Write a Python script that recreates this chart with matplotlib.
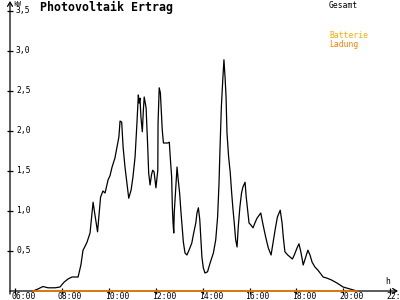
import matplotlib
matplotlib.use('Agg')
import matplotlib.pyplot as plt

# Gesamt (kW) over the day, hours as decimals
hours = [6.77, 6.98, 7.19, 7.41, 7.71, 7.92, 8.09, 8.26, 8.43, 8.69, 8.81, 8.90, 8.99, 9.07,
         9.20, 9.33, 9.41, 9.52, 9.65, 9.75, 9.84, 9.97, 10.05, 10.14, 10.26, 10.35, 10.43,
         10.48, 10.55, 10.61, 10.69, 10.77, 10.85, 10.95, 11.03, 11.12, 11.20, 11.26, 11.29,
         11.33, 11.37, 11.43, 11.47, 11.51, 11.59, 11.66, 11.70, 11.76, 11.82, 11.87, 11.93,
         12.01, 12.09, 12.10, 12.15, 12.20, 12.28, 12.33, 12.52, 12.58, 12.62, 12.68, 12.71,
         12.74, 12.77, 12.79, 12.87, 12.91, 12.96, 13.02, 13.08, 13.13, 13.18, 13.25, 13.33,
         13.42, 13.54, 13.62, 13.71, 13.76, 13.82, 13.88, 13.93, 13.97, 14.03, 14.10, 14.21,
         14.32, 14.46, 14.56, 14.64, 14.70, 14.74, 14.80, 14.86, 14.91, 14.96, 15.00, 15.04,
         15.11, 15.18, 15.24, 15.29, 15.35, 15.41, 15.47, 15.52, 15.59, 15.66, 15.72, 15.81,
         15.86, 15.92, 15.98, 16.06, 16.15, 16.23, 16.32, 16.48, 16.58, 16.69, 16.80, 16.92,
         17.00, 17.09, 17.19, 17.31, 17.39, 17.44, 17.51, 17.63, 17.73, 17.83, 17.91, 18.03,
         18.11, 18.20, 18.29, 18.40, 18.49, 18.58, 18.67, 18.79, 18.92, 19.01, 19.14, 19.31,
         19.48, 19.73, 19.99, 20.29, 20.58]
gesamt = [0.0, 0.025, 0.056, 0.04, 0.04, 0.05, 0.11, 0.15, 0.175, 0.175, 0.325, 0.51, 0.56, 0.61,
          0.725, 1.11, 0.95, 0.74, 1.175, 1.25, 1.225, 1.39, 1.44, 1.55, 1.66, 1.8, 1.925,
          2.125, 2.11, 1.8, 1.55, 1.35, 1.16, 1.26, 1.425, 1.675, 2.1, 2.45, 2.35,
          2.41, 2.175, 1.99, 2.24, 2.425, 2.29, 1.8, 1.475, 1.325, 1.45, 1.51, 1.49,
          1.29, 1.51, 2.1, 2.54, 2.475, 2.01, 1.85, 1.85, 1.86, 1.675, 1.425, 1.05,
          0.85, 0.725, 0.975, 1.35, 1.55, 1.39, 1.225, 0.975, 0.8, 0.61, 0.475, 0.45,
          0.51, 0.6, 0.725, 0.85, 0.975, 1.04, 0.89, 0.64, 0.425, 0.29, 0.225, 0.24,
          0.35, 0.475, 0.64, 0.925, 1.35, 1.76, 2.3, 2.64, 2.89, 2.66, 2.425, 1.975,
          1.675, 1.475, 1.225, 1.04, 0.85, 0.64, 0.55, 0.8, 1.05, 1.225, 1.3, 1.36,
          1.175, 1.01, 0.85, 0.825, 0.79, 0.85, 0.91, 0.975, 0.825, 0.675, 0.54, 0.45,
          0.6, 0.76, 0.925, 1.01, 0.85, 0.675, 0.49, 0.45, 0.425, 0.4, 0.45, 0.54,
          0.59, 0.475, 0.325, 0.425, 0.51, 0.45, 0.36, 0.3, 0.26, 0.225, 0.175, 0.16,
          0.14, 0.1, 0.05, 0.025, 0.0]
# Batterie Ladung (kW)
lade_hours = [6.77, 20.58]
ladung = [0.0, 0.0]

xticks = [6, 8, 10, 12, 14, 16, 18, 20, 22]
xlabels = ['06:00', '08:00', '10:00', '12:00', '14:00', '16:00', '18:00', '20:00', '22:00']
yticks = [0.5, 1.0, 1.5, 2.0, 2.5, 3.0, 3.5]
ylabels = ['0,5', '1,0', '1,5', '2,0', '2,5', '3,0', '3,5']

orange = '#ff8000'
gold = '#ffaa00'
mono = 'DejaVu Sans Mono'

# pixel layout: 06:00 at x=15px, 23.45px per hour; 0 kW at y=291px, 80px per kW
px_h = 23.45
px_kw = 80.0
def hx(px):
    return 6 + (px - 15) / px_h
def ky(py):
    return (291 - py) / px_kw

fig = plt.figure(figsize=(4, 3), dpi=100)
ax = fig.add_axes([0, 0, 1, 1])
ax.set_xlim(hx(0), hx(400))
ax.set_ylim(ky(300), ky(0))
ax.axis('off')

x0 = hx(10)
arrow = dict(arrowstyle='->,head_length=0.3,head_width=0.18', lw=0.9, color='black',
             shrinkA=0, shrinkB=0)
ax.annotate('', xy=(hx(398), 0), xytext=(x0, 0), arrowprops=arrow)
ax.annotate('', xy=(x0, ky(1)), xytext=(x0, ky(294)), arrowprops=arrow)

dx = 3 / px_h
dy = 3 / px_kw
ax.hlines(yticks, x0 - dx, x0 + dx, color='black', lw=0.9)
ax.vlines(xticks, -dy, dy, color='black', lw=0.9)
for v, lab in zip(yticks, ylabels):
    ax.text(x0 + 6 / px_h, v, lab, fontsize=5.8, family=mono, ha='left', va='center')
for v, lab in zip(xticks, xlabels):
    ax.text(v - 4 / px_h, -5.5 / px_kw, lab, fontsize=5.8, family=mono, ha='left', va='center')

ax.plot(hours, gesamt, color='black', lw=0.9, zorder=4)
ax.plot(lade_hours, ladung, color=orange, lw=1.1, zorder=5)

fig.text(40 / 400, 1 - 7.5 / 300, 'Photovoltaik Ertrag', fontsize=8.4, family=mono,
         weight='bold', ha='left', va='center')
fig.text(13 / 400, 1 - 3.5 / 300, 'kW', fontsize=4.8, family=mono, ha='left', va='center')
fig.text(329 / 400, 1 - 5 / 300, 'Gesamt', fontsize=5.8, family=mono, ha='left', va='center')
fig.text(329 / 400, 1 - 36 / 300, 'Batterie', fontsize=5.8, family=mono, color=gold,
         ha='left', va='center')
fig.text(329 / 400, 1 - 44 / 300, 'Ladung', fontsize=5.8, family=mono, color=orange,
         ha='left', va='center')
fig.text(385 / 400, 1 - 282 / 300, 'h', fontsize=5.8, family=mono, ha='left', va='center')

fig.savefig('out.png', dpi=100)
